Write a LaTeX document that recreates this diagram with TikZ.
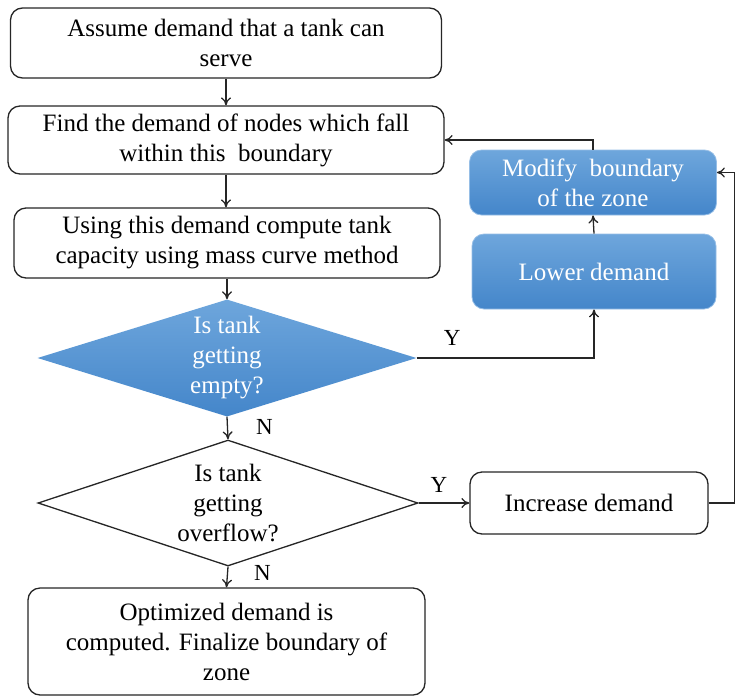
\documentclass[tikz,border=0pt]{standalone}
\usepackage{fontspec}
\setmainfont{Liberation Serif}
\usetikzlibrary{shapes.geometric,arrows.meta}
\definecolor{bluetop}{RGB}{110,166,220}
\definecolor{bluebot}{RGB}{68,134,202}
\definecolor{blueedge}{RGB}{150,190,230}
\tikzset{
  base/.style={font=\fontsize{25}{30}\selectfont, align=center, inner sep=0pt},
  wbox/.style={base, draw=black!85, line width=1.3pt, rounded corners=12pt, fill=white},
  bbox/.style={base, draw=blueedge, line width=0.8pt, rounded corners=12pt, top color=bluetop, bottom color=bluebot, text=white},
  wdia/.style={diamond, draw=black!85, line width=1.3pt, fill=white, inner sep=0pt},
  bdia/.style={diamond, draw=none, top color=bluetop, bottom color=bluebot, inner sep=0pt},
  arr/.style={draw=black!85, line width=1.3pt, -{To[length=8pt,width=10pt]}},
  lbl/.style={font=\fontsize{23}{26}\selectfont, inner sep=0pt}
}
\begin{document}
\begin{tikzpicture}[x=1pt,y=-1pt]
\useasboundingbox (0,0) rectangle (736,697);
% boxes
\node[wbox, minimum width=431pt, minimum height=70pt] (b1) at (226,43) {Assume demand that a tank can\\serve};
\node[wbox, minimum width=436pt, minimum height=68pt] (b2) at (226,140) {Find the demand of nodes which fall\\within this\ \ boundary};
\node[wbox, minimum width=426pt, minimum height=70pt] (b3) at (227,243) {Using this demand compute tank\\capacity using mass curve method};
\node[bdia, minimum width=379pt, minimum height=117pt] (d1) at (227,358) {};
\node[base, text=white] (d1t) at (d1) {Is tank\\getting\\empty?};
\node[wdia, minimum width=380pt, minimum height=126pt] (d2) at (228,503) {};
\node[base] (d2t) at (d2) {Is tank\\getting\\overflow?};
\node[wbox, minimum width=397pt, minimum height=107pt] (fin) at (226.5,641.5) {Optimized demand is\\computed. Finalize boundary of\\zone};
\node[wbox, minimum width=238pt, minimum height=62pt] (inc) at (589,503) {Increase demand};
\node[bbox, minimum width=244pt, minimum height=75pt] (low) at (594,271.5) {Lower demand};
\node[bbox, minimum width=247pt, minimum height=65pt] (mod) at (593,182.5) {Modify\ \ boundary\\of the zone};
\coordinate (rc) at (734.5,503);
% connectors
\draw[arr] (b1.south) -- (b1.south |- b2.north);
\draw[arr] (b2.south) -- (b2.south |- b3.north);
\draw[arr] (b3.south) -- (b3.south |- d1.north);
\draw[arr] (d1.south) -- (d2.north) node[lbl, pos=0.45, right=28pt] {N};
\draw[arr] (d1.east) -| (low.south) node[lbl, pos=0.1, above=12pt] {Y};
\draw[arr] (low.north) -- (mod.south);
\draw[arr] (mod.north) |- (b2.east);
\draw[arr] (d2.east) -- (inc.west) node[lbl, pos=0.4, above=10pt] {Y};
\draw[arr] (inc.east) -- (rc) |- ([yshift=10pt]mod.east);
\draw[arr] (d2.south) -- (fin.north) node[lbl, pos=0.3, right=26pt] {N};
\end{tikzpicture}
\end{document}
